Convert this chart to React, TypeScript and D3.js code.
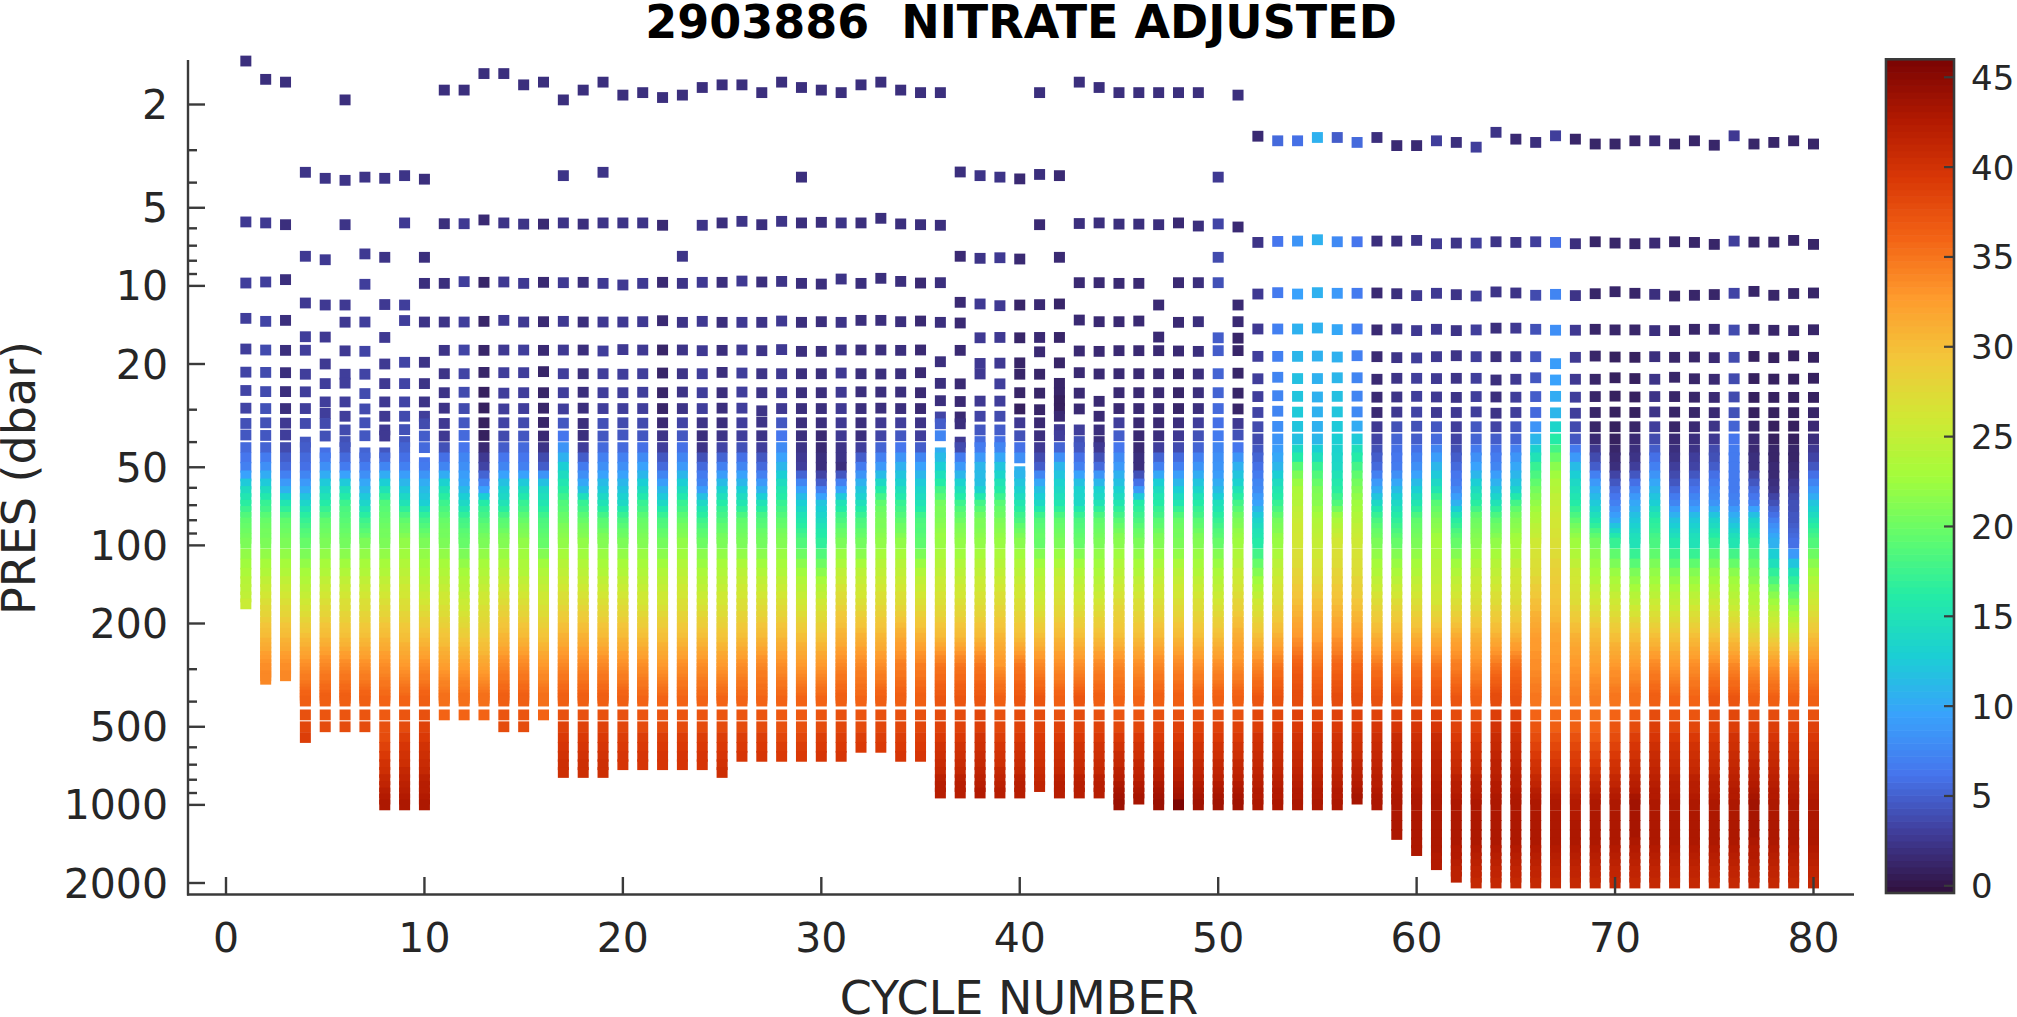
import React from "react";
import * as d3 from "d3";

const titleText = "2903886  NITRATE ADJUSTED";
const xLabel = "CYCLE NUMBER";
const yLabel = "PRES (dbar)";
const xTicks = [0, 10, 20, 30, 40, 50, 60, 70, 80];
const yMajorTicks = [2, 5, 10, 20, 50, 100, 200, 500, 1000, 2000];
const yMinorTicks = [3, 4, 6, 7, 8, 9, 30, 40, 60, 70, 80, 90, 300, 400, 600, 700, 800, 900];
const colorTicks = [0, 5, 10, 15, 20, 25, 30, 35, 40, 45];

const turboStops = ["#30103c", "#403c98", "#4675ed", "#39a2fc", "#1bcfd4", "#24eca6", "#61fc6c", "#a4fc3b", "#d1e834", "#f3c63a", "#fe9b2d", "#f36315", "#d93806", "#b11901", "#7a0403"];

// sampled pressures above the dense part of each profile, cycle 1..80
const shallowLevels: number[][] = [
  [1.36, 5.67, 9.75, 13.34, 17.51, 21.5, 25.3, 29.6, 33.9, 37.55],
  [1.6, 5.72, 9.66, 13.7, 17.67, 21.55, 25.55, 29.7, 33.7, 37.7],
  [1.64, 5.81, 9.46, 13.58, 17.72, 21.6, 25.55, 29.7, 33.8, 37.55],
  [3.65, 7.69, 11.64, 15.7, 17.7, 21.9, 25.6, 29.7, 33.9, 40],
  [3.85, 7.93, 11.85, 15.75, 20, 23.8, 28, 31, 33.9, 37.9, 44],
  [1.92, 3.92, 5.81, 11.85, 13.8, 17.8, 21.9, 23.7, 28, 31.8, 35.9, 39.8],
  [3.81, 7.53, 9.86, 13.78, 17.87, 21.9, 26, 29.8, 33.7, 37.8, 44],
  [3.85, 7.76, 11.8, 15.8, 20, 23.8, 28, 31.8, 35.9, 37.9, 44],
  [3.76, 5.72, 11.85, 13.6, 19.7, 23.8, 28, 31.8, 35.8, 39.8],
  [3.88, 7.76, 9.78, 13.78, 19.7, 23.8, 28, 31.8, 34, 37.9, 42, 48],
  [1.76, 5.76, 9.78, 13.78, 17.72, 21.8, 25.8, 29.6, 33.9, 37.9],
  [1.76, 5.76, 9.63, 13.78, 17.67, 21.8, 25.7, 29.7, 33.7, 37.7],
  [1.52, 5.57, 9.69, 13.7, 17.72, 21.55, 25.7, 29.55, 33.7, 37.7],
  [1.52, 5.72, 9.66, 13.58, 17.67, 21.6, 25.9, 29.8, 33.7, 37.9],
  [1.68, 5.78, 9.78, 13.78, 17.67, 21.6, 25.8, 29.7, 33.7, 37.9],
  [1.64, 5.78, 9.69, 13.74, 17.72, 21.4, 25.8, 29.6, 33.6, 37.9],
  [1.92, 3.76, 5.72, 9.72, 13.7, 17.67, 21.8, 25.8, 29.8, 33.8, 37.9],
  [1.76, 5.78, 9.69, 13.78, 17.67, 21.8, 25.7, 29.6, 33.9, 37.7],
  [1.64, 3.65, 5.72, 9.78, 13.78, 17.82, 21.8, 25.8, 29.7, 33.9, 37.9],
  [1.84, 5.72, 9.92, 13.78, 17.6, 21.9, 25.8, 29.7, 33.7, 37.55],
  [1.8, 5.72, 9.78, 13.74, 17.67, 21.8, 25.7, 29.7, 33.8, 37.8],
  [1.88, 5.84, 9.69, 13.62, 17.66, 21.67, 25.8, 29.7, 33.7, 37.8],
  [1.84, 7.69, 9.78, 13.82, 17.66, 21.8, 25.65, 29.7, 33.7, 37.8],
  [1.72, 5.84, 9.69, 13.7, 17.77, 21.8, 25.8, 29.7, 33.7, 37.8],
  [1.68, 5.72, 9.69, 13.82, 17.72, 21.55, 25.8, 29.6, 33.7, 37.8],
  [1.68, 5.64, 9.58, 13.82, 17.66, 21.67, 25.65, 29.6, 33.7, 37.8],
  [1.8, 5.81, 9.66, 13.82, 17.77, 21.8, 25.8, 30.3, 33.5, 37.8],
  [1.64, 5.64, 9.61, 13.66, 17.6, 21.8, 25.8, 29.7, 33.7, 37.8],
  [1.72, 3.81, 5.72, 9.78, 13.82, 17.88, 21.8, 25.8, 29.7, 33.7, 37.8],
  [1.76, 5.69, 9.84, 13.74, 17.88, 21.8, 25.8, 29.7, 33.7, 37.8],
  [1.8, 5.72, 9.41, 13.82, 17.66, 21.67, 25.7, 29.7, 33.7, 37.8],
  [1.68, 5.72, 9.78, 13.58, 17.66, 21.8, 25.6, 29.7, 33.7, 37.8],
  [1.64, 5.49, 9.35, 13.58, 17.66, 21.85, 25.65, 29.6, 33.7, 37.8],
  [1.76, 5.77, 9.61, 13.74, 17.72, 21.8, 25.65, 29.7, 33.7, 37.8],
  [1.8, 5.81, 9.75, 13.66, 17.66, 21.6, 25.8, 29.7, 33.7, 37.8],
  [1.8, 5.84, 9.72, 13.82, 19.6, 23.75, 27.7, 32, 34, 37.8, 44],
  [3.64, 7.69, 11.57, 13.9, 17.72, 23.85, 27.9, 32, 34, 40],
  [3.76, 7.83, 11.74, 15.85, 19.9, 21.85, 27.8, 31.8, 35.9, 39.8],
  [3.81, 7.79, 11.92, 15.8, 19.85, 23.85, 27.8, 31.8, 35.9, 39.8],
  [3.87, 7.88, 11.85, 15.85, 19.8, 21.9, 25.8, 29.8, 33.7, 37.8, 42, 46, 52],
  [1.8, 3.72, 5.81, 11.81, 15.8, 17.95, 21.9, 25.9, 30, 33.7, 37.8],
  [3.76, 7.76, 11.74, 15.8, 19.8, 23.75, 25.8, 27.7, 29.7, 31.8, 35.8, 37.8],
  [1.64, 5.75, 9.72, 13.54, 17.82, 21.6, 25.9, 29.8, 35.9, 39.8],
  [1.72, 5.72, 9.72, 13.74, 17.88, 21.85, 27.85, 31.8, 35.9, 39.8],
  [1.8, 5.78, 9.78, 13.74, 17.77, 21.8, 25.8, 29.7, 33.7, 37.8],
  [1.8, 5.78, 9.78, 13.66, 17.77, 21.8, 25.8, 29.7, 33.7, 37.8],
  [1.8, 5.81, 11.85, 15.75, 17.77, 21.8, 25.8, 29.7, 33.7, 37.8],
  [1.8, 5.72, 9.72, 13.82, 17.82, 21.8, 25.8, 29.7, 33.7, 37.8],
  [1.8, 5.88, 9.72, 13.74, 17.88, 21.85, 25.8, 29.7, 33.7, 37.8],
  [3.81, 5.77, 7.76, 9.72, 15.85, 17.77, 21.8, 25.8, 29.7, 33.7, 37.8],
  [1.84, 5.93, 11.85, 13.74, 15.9, 17.76, 21.7, 25.9, 29.8, 33.9, 37.55],
  [2.65, 6.8, 10.75, 14.66, 18.69, 22.8, 26.7, 30.75, 34.9, 38.9, 42.9],
  [2.76, 6.74, 10.62, 14.66, 18.69, 22.5, 26.5, 30.4, 34.8, 38.9, 42.9],
  [2.76, 6.72, 10.75, 14.66, 18.69, 22.76, 26.65, 30.65, 34.8, 38.9, 42.9],
  [2.68, 6.64, 10.62, 14.53, 18.64, 22.76, 26.8, 30.6, 34.8, 38.9, 42.9],
  [2.68, 6.76, 10.68, 14.74, 18.8, 22.6, 26.65, 30.6, 34.8, 38.9, 42.9],
  [2.8, 6.76, 10.68, 14.66, 18.58, 22.6, 26.6, 30.6, 34.7, 38.9, 42.9],
  [2.68, 6.72, 10.65, 14.78, 18.74, 22.9, 26.85, 30.75, 34.9, 38.9, 42.9],
  [2.88, 6.72, 10.72, 14.66, 18.9, 22.71, 26.8, 30.65, 34.9, 38.9, 42.9],
  [2.88, 6.68, 10.9, 14.87, 18.95, 22.71, 26.65, 30.65, 34.75, 38.9, 42.9],
  [2.76, 6.88, 10.68, 14.7, 18.74, 22.76, 26.8, 30.75, 34.9, 38.9, 42.9],
  [2.8, 6.84, 10.81, 14.87, 18.58, 22.71, 26.9, 30.75, 34.9, 38.9, 42.9],
  [2.92, 6.84, 10.94, 14.78, 18.74, 22.71, 26.7, 30.6, 34.9, 38.9, 42.9],
  [2.56, 6.76, 10.55, 14.55, 18.74, 23.05, 26.8, 30.95, 34.9, 38.9, 42.9],
  [2.72, 6.8, 10.65, 14.55, 18.74, 22.9, 26.85, 30.75, 34.9, 38.9, 42.9],
  [2.8, 6.76, 10.87, 14.7, 18.74, 22.6, 26.7, 30.75, 34.9, 38.9, 42.9],
  [2.64, 6.8, 10.78, 14.82, 19.94, 23.05, 26.65, 30.85, 34.9, 38.9, 42.9],
  [2.72, 6.88, 10.9, 14.82, 18.85, 22.9, 26.85, 30.95, 34.9, 38.9, 42.9],
  [2.84, 6.76, 10.72, 14.7, 18.64, 22.9, 26.7, 30.75, 34.9, 38.9, 42.9],
  [2.84, 6.84, 10.53, 14.78, 18.8, 22.6, 26.6, 30.65, 34.9, 38.9, 42.9],
  [2.76, 6.88, 10.68, 14.78, 18.85, 22.76, 26.8, 30.75, 34.9, 38.9, 42.9],
  [2.76, 6.84, 10.78, 14.87, 18.74, 22.9, 26.7, 30.6, 34.9, 38.9, 42.9],
  [2.84, 6.76, 10.94, 14.87, 18.85, 22.5, 26.7, 30.65, 34.9, 38.9, 42.9],
  [2.76, 6.8, 10.87, 14.7, 18.8, 22.8, 26.85, 30.75, 34.9, 38.9, 42.9],
  [2.87, 6.92, 10.8, 14.7, 18.9, 22.9, 26.9, 30.8, 34.7, 38.9, 42.9],
  [2.64, 6.72, 10.68, 14.8, 18.85, 22.8, 26.8, 30.8, 34.7, 38.9, 42.9],
  [2.84, 6.78, 10.5, 14.7, 18.7, 22.76, 26.9, 30.8, 34.7, 38.9, 42.9],
  [2.8, 6.78, 10.87, 14.83, 18.9, 22.87, 26.9, 30.8, 34.7, 38.9, 42.9],
  [2.76, 6.68, 10.7, 14.87, 18.6, 22.87, 26.9, 30.8, 34.7, 38.9, 42.9],
  [2.84, 6.92, 10.65, 14.76, 18.85, 22.7, 26.9, 30.8, 34.7, 38.9, 42.9],
];

// sampled pressures of the dense part, shared by all cycles
const profileLevels = [
  42, 46, 50, 54, 58, 62, 66, 70, 74, 78, 82, 86, 90, 94, 98,
  108, 118, 128, 138, 148, 158, 168, 178, 188, 198, 208, 218, 228, 238, 248, 258, 268, 278, 288, 298,
  308, 318, 328, 338, 348, 358, 368, 378, 388, 398,
  450, 500, 550, 600, 650, 700, 750, 800, 850, 900, 950, 1000,
  1100, 1200, 1300, 1400, 1500, 1600, 1700, 1800, 1900, 2000,
];

// first dense level used by each cycle
const columnTops = [
  42, 42, 42, 42, 46, 42, 46, 46, 42, 50, 42, 42, 42, 42, 42, 42, 42, 42, 42, 42,
  42, 42, 42, 42, 42, 42, 42, 42, 42, 42, 42, 42, 42, 42, 42, 46, 42, 42, 42, 54,
  42, 42, 42, 42, 42, 42, 42, 42, 42, 42, 42, 46, 46, 46, 46, 46, 46, 46, 46, 46,
  46, 46, 46, 46, 46, 46, 46, 46, 46, 46, 46, 46, 46, 46, 46, 46, 46, 46, 46, 46,
];

// deepest pressure reached by each cycle
const maxPressures = [
  168, 328, 318, 550, 500, 500, 500, 1000, 1000, 1000, 450, 450, 450, 500, 500, 450, 750, 750, 750, 700,
  700, 700, 700, 700, 750, 650, 650, 650, 650, 650, 650, 600, 600, 650, 650, 900, 900, 900, 900, 900,
  850, 900, 900, 900, 1000, 950, 1000, 1000, 1000, 1000, 1000, 1000, 1000, 1000, 1000, 1000, 950, 1000, 1300, 1500,
  1700, 1900, 2000, 2000, 2000, 2000, 2000, 2000, 2000, 2000, 2000, 2000, 2000, 2000, 2000, 2000, 2000, 2000, 2000, 2000,
];

const readingPressures = [2, 30, 40, 50, 60, 70, 80, 100, 130, 170, 230, 300, 400, 560, 1000, 1400, 2000];

// nitrate readings per cycle, one column per entry of readingPressures
const nitrateReadings: number[][] = [
  [2, 3.5, 5, 7, 13.5, 16.5, 19, 21, 23.5, 25.5],
  [2, 4, 4.5, 8, 13.5, 17, 19.5, 21, 24, 27, 30.5, 33.5, 35],
  [2, 2, 3.5, 5.5, 9.5, 15.5, 19, 21, 24, 27, 30.5, 33.5, 35],
  [2, 3.2, 4.5, 6, 9.5, 13.5, 17, 20, 23, 26, 30, 33.5, 36.5, 39],
  [2, 3, 4.5, 8, 13.5, 16, 19, 21, 24, 27, 30.5, 34, 36.5, 38.5],
  [2, 3, 4, 6.5, 14, 17.5, 19, 20.5, 24, 27, 30, 34, 36.5, 38.5],
  [2, 3.7, 4.5, 6.5, 10.5, 13.5, 17, 21, 24, 27, 30, 33.5, 36.5, 38.5],
  [2, 2.8, 2.5, 7.5, 14, 18.5, 19.5, 21, 24, 27, 30.5, 33.5, 36, 38, 43],
  [2, 3.5, 4.5, 7, 12, 15, 19, 22, 24.5, 27, 30, 33, 36, 39, 43],
  [2, 2.2, 5.5, 6.5, 11, 13, 17.5, 21, 23.5, 26.5, 30, 33.5, 36.5, 39.5, 43],
  [2, 2.2, 3, 7.5, 14.5, 17.5, 19.5, 21, 24, 26.5, 29.5, 32.5, 35.5, 37],
  [2, 3.7, 6, 8, 10.5, 14, 17.5, 20, 23, 25.5, 29, 32.5, 35.5, 37],
  [1.8, 1, 1, 3.5, 8, 16, 18.5, 21, 24, 26.5, 29, 32, 35.5, 37],
  [2, 3, 4, 7.5, 12.5, 15, 18.5, 21.5, 24.5, 27.5, 30.5, 34, 36.5, 38.5],
  [2, 3.2, 5, 7, 13.5, 17, 19.5, 22, 24, 27, 30.5, 34, 36.5, 38.5],
  [2, 1.3, 1.5, 5, 13.5, 15.5, 18, 20, 24, 26.5, 29.5, 33, 35.5, 37],
  [2, 3, 7, 13, 16, 18.5, 20, 22, 25, 27.5, 31, 34, 36.5, 39.5, 41.5],
  [2, 1.8, 2, 6.5, 10.5, 17, 19.5, 22, 24.5, 27.5, 31, 34, 36.5, 39.5, 41.5],
  [2, 3.2, 5, 8, 12, 15, 18.5, 21.5, 24, 27, 30.5, 34, 36.5, 39.5, 41.5],
  [2, 3, 5, 8, 11.5, 14, 18, 21, 24, 27, 30.5, 33.5, 36.5, 39, 41],
  [2, 3, 5, 9.5, 13.5, 17, 19.5, 21.5, 24, 26.5, 30, 33.5, 36, 39, 41],
  [2, 1.2, 2.5, 5.5, 10, 14, 18, 20.5, 24, 26.5, 30, 33, 36, 39, 41],
  [2, 2.5, 5, 9, 13.5, 17, 19.5, 22, 24.5, 27, 30, 33.5, 36, 39, 41],
  [2, 3, 1.5, 5.5, 8, 14, 17, 20.5, 23.5, 26.5, 30, 33.5, 36, 39, 41],
  [2, 1.8, 2.5, 7, 12.5, 16, 18.5, 21, 24, 26.5, 29.5, 33, 36, 39, 41.5],
  [2, 3, 3, 7.5, 12, 15.5, 19, 21, 24.5, 27, 30, 33.5, 36, 39, 41],
  [2, 2.2, 2.5, 5.5, 9.5, 15, 18.5, 20.5, 24, 27, 30.5, 34, 36, 39, 41],
  [2, 2.8, 7, 11, 15, 17, 19, 21.5, 24, 27, 30.5, 33.5, 36, 38.5, 41],
  [2, 2, 2, 3, 8.5, 13, 15.5, 19, 23, 26, 30, 33, 36, 38.5, 41],
  [2, 2, 1.5, 2, 5.5, 12, 14, 17, 22, 26, 29.5, 33, 36, 39, 41],
  [2, 2.6, 2.5, 2, 8, 15, 18, 21, 25, 28, 31, 34, 36.5, 39, 41],
  [2, 1.8, 2, 6.5, 11.5, 14.5, 18, 20.5, 24.5, 27, 31, 34, 36, 39, 40.5],
  [2, 1.8, 4, 9, 15, 19.5, 20.5, 22, 25, 27.5, 30.5, 33.5, 36.5, 39, 40.5],
  [2, 1.8, 5, 10.5, 14, 17, 19, 22, 25, 27.5, 31.5, 34.5, 36.5, 39, 41],
  [2, 1.5, 3.5, 9.5, 13, 15, 18, 19.5, 24, 27, 31, 34.5, 36.5, 39, 41],
  [2, 2, 8.5, 13, 17, 20.5, 21, 22.5, 25, 27, 30.5, 35, 37, 39.5, 43],
  [2, 1.5, 2.5, 9, 14, 17.5, 20, 22, 24.5, 27, 30.5, 35, 37, 39.5, 43],
  [2, 2.8, 5.5, 11, 12, 18, 20.5, 22, 25, 27, 30.5, 35, 37, 40, 43],
  [2, 3, 6, 12, 15.5, 19, 20.5, 22.5, 25, 27.5, 30.5, 33, 36.5, 39, 43],
  [2, 1, 5, 10, 12.5, 15.5, 18, 22, 24.5, 27, 30, 35, 37, 39.5, 43],
  [2, 1.3, 2, 5, 11, 14, 18.5, 20, 24, 26, 30, 34, 37, 39.5, 42],
  [2, 1, 3.5, 11, 13.5, 15.5, 19, 21, 25, 27, 30.5, 33.5, 36.5, 39.5, 43],
  [2, 1.5, 4, 7, 13, 14, 18, 20, 24, 26.5, 30, 33.5, 37, 39.5, 43],
  [2, 1.5, 2, 5.5, 12.5, 15, 19, 21, 23.5, 26.5, 30, 34, 36.5, 39.5, 43],
  [2, 1.5, 5.5, 9, 12.5, 15.5, 18.5, 22, 24.5, 27.5, 30, 34, 36, 39.5, 44],
  [2, 1.5, 1.5, 2, 7, 16, 18, 21, 24, 27, 30, 33.5, 36, 39.5, 43.5],
  [2, 1.5, 2, 7, 14, 16, 18.5, 21.5, 24.5, 27, 30.5, 34, 36.5, 39.5, 44],
  [2, 1.3, 3, 7, 12, 15.5, 19.5, 21, 24.5, 27, 30.5, 34, 36.5, 39.5, 44],
  [2, 1.8, 4.5, 8.5, 13, 16, 18.5, 21.5, 24, 27, 30, 33.5, 36.5, 39.5, 43.5],
  [2, 5.5, 7, 8.5, 10.5, 14.5, 17, 20, 23.5, 26.5, 30, 33.5, 36.5, 39.5, 43.5],
  [2, 1.2, 5, 10.5, 14, 18, 20.5, 23, 25.5, 28, 31.5, 33.5, 36.5, 39.5, 43.5],
  [1.5, 3.2, 4, 6, 7.5, 9.5, 13, 16.5, 21.5, 26, 30, 34, 37, 40, 43],
  [5.5, 7.5, 8.5, 11, 15, 17, 20, 22.5, 25.5, 27.5, 31, 35, 37.5, 40, 43],
  [5, 12.5, 11.5, 19, 23, 24, 25.5, 26.5, 28, 30, 33, 36.5, 38, 40, 43],
  [10.5, 10.5, 11, 17, 20.5, 21.5, 23.5, 25.5, 27, 30, 32.5, 35.5, 37.5, 40, 43],
  [4, 12, 13, 14, 16, 18.5, 23, 26.5, 28, 30, 33, 36, 38, 40, 43],
  [5.5, 7.5, 13, 18, 21, 22.5, 24, 26, 27.5, 29.5, 32.5, 36, 38, 40, 43.5],
  [2, 1.5, 3.5, 5.5, 9.5, 14, 18, 21, 24, 27.5, 31, 35, 37.5, 40.5, 43],
  [1.5, 2.5, 5.5, 6.5, 10.5, 14, 16.5, 20, 23.5, 27.5, 31, 34.5, 37.5, 41, 43, 43],
  [1.5, 3.2, 5, 8, 12, 15.5, 19, 21, 24, 27, 31, 35, 37.5, 40.5, 43, 43, 42],
  [3, 2.5, 6, 11, 14.5, 19, 21, 23, 24.5, 26.5, 31, 35, 37.5, 41, 43, 43, 42],
  [2, 2.5, 3.5, 5.5, 7, 10.5, 16, 20, 24, 27, 31.5, 34.5, 37, 39.5, 43, 43, 41.5],
  [3, 3, 5.5, 9.5, 13.5, 16.5, 20, 21.5, 25, 27, 31, 33.5, 36.5, 39.5, 43, 43, 41],
  [2.5, 2, 5, 7.5, 11.5, 15, 19, 22, 25, 27.5, 31, 35, 38, 41, 43, 43, 41],
  [1.5, 3, 5.5, 10, 12.5, 18, 21, 23, 26, 27.5, 31, 35.5, 37.5, 40.5, 43, 43, 41],
  [1.5, 5, 11.5, 17, 20, 22, 23.5, 26, 27.5, 30, 32.5, 33.5, 35, 38, 43, 43, 41],
  [2, 10.5, 16.5, 21.5, 24, 25, 26, 27, 28.5, 29.5, 32, 33, 34.5, 37.5, 43, 43, 41],
  [1.2, 3, 4.5, 11.5, 14.5, 16, 19, 23, 26, 27.5, 31, 33, 34.5, 37.5, 42.5, 43, 41],
  [1.2, 1.2, 1.5, 5, 9.5, 12.5, 15, 21, 23, 26.5, 30.5, 32.5, 34.5, 37, 43, 43, 41],
  [1.2, 1, 1, 2, 5, 7, 9.5, 18, 22.5, 26, 30, 33, 35, 38, 43, 43, 41],
  [1.2, 1, 1.5, 3, 6.5, 10, 12, 15.5, 21, 25, 30, 33, 35.5, 39, 43.5, 43, 41],
  [1.3, 2.3, 4, 7, 10.5, 13, 16, 18.5, 22, 25.5, 30, 34, 36.5, 40, 43, 43, 41],
  [1.2, 1.2, 1.5, 3, 5, 7.5, 11.5, 16, 21, 25, 29.5, 33, 36, 39.5, 43, 43, 41],
  [1.2, 1.2, 2, 3.5, 6, 8, 12, 15.5, 21.5, 25.5, 30, 33.5, 36, 39.5, 43, 43, 41],
  [1.2, 1.5, 3, 5, 7, 8.5, 13, 17.5, 22, 25.5, 29.5, 34, 37, 39.5, 43, 43, 41],
  [2.5, 4, 6.5, 6.5, 6.5, 7.5, 11, 16, 22, 25, 29.5, 34, 37, 40, 43, 43, 41],
  [1.2, 1, 1.5, 2, 5, 7, 13, 17.5, 21, 24, 28, 33, 36.5, 40, 43.5, 43, 41.5],
  [1.2, 1, 1, 1.5, 2, 4, 6.5, 11, 17, 23, 28, 33, 36.5, 40, 43, 43, 41],
  [1.2, 1, 1, 1.5, 3, 4, 4.5, 6, 15.5, 21, 27, 33, 36.5, 39.5, 43, 43, 41],
  [1.2, 1, 2, 4.5, 8, 12, 15, 19, 23, 26, 30, 33.5, 36.5, 39.5, 43, 43, 41],
];

// the one reading well outside its neighbours: cycle, pressure, nitrate
const outlierReadings = [{ cycle: 48, pressure: 1000, nitrate: 46 }];

const AXIS = "#3a3a3a";
const TEXT = "#262626";
const FONT = "'DejaVu Sans', sans-serif";

const x = d3.scaleLinear().domain([0, 80]).range([226, 1813.5]);
const y = d3.scaleLog().domain([2, 2000]).range([104.5, 883]);
const colorY = d3.scaleLinear().domain([-0.4, 46]).range([893, 59.3]);
const turbo = d3.piecewise(d3.interpolateRgb, turboStops);
const STEPS = 128;
const colorOf = (v: number) => {
  const t = (v + 0.4) / 46.4;
  const i = Math.min(STEPS - 1, Math.max(0, Math.floor(t * STEPS)));
  return turbo((i + 0.5) / STEPS);
};
const MARK_W = 11;
const MARK_H = 10.8;

type Mark = { cycle: number; pressure: number; nitrate: number };
const marks: Mark[] = shallowLevels.flatMap((shallow, i) => {
  const cycle = i + 1;
  const row = nitrateReadings[i];
  const padded = readingPressures.map((_, k) => row[Math.min(k, row.length - 1)]);
  const reading = d3.scaleLog().domain(readingPressures).range(padded).clamp(true);
  const dense = profileLevels.filter((p) => p >= columnTops[i] && p <= maxPressures[i]);
  return [...shallow, ...dense].map((pressure) => {
    const outlier = outlierReadings.find((o) => o.cycle === cycle && o.pressure === pressure);
    return { cycle, pressure, nitrate: outlier ? outlier.nitrate : reading(pressure) };
  });
});
const colorSteps = d3.range(STEPS).map((i) => -0.4 + (i * 46.4) / STEPS);

export default function App() {
  return (
    <svg width={2017} height={1017} viewBox="0 0 2017 1017" style={{ position: "absolute", left: 0, top: 0, background: "#fff" }} fontFamily={FONT}>
      <text x={1021} y={38} textAnchor="middle" fontSize={46} fontWeight="bold" fill="#000" style={{ whiteSpace: "pre" }}>{titleText}</text>

      <g>
        {marks.map((m, i) => (
          <rect key={i} x={x(m.cycle) - MARK_W / 2} y={y(m.pressure) - MARK_H / 2} width={MARK_W} height={MARK_H} fill={colorOf(m.nitrate)} />
        ))}
      </g>

      <g stroke={AXIS} strokeWidth={2.4}>
        <line x1={188} x2={188} y1={60} y2={895.5} />
        <line x1={187} x2={1854} y1={894.5} y2={894.5} />
        {xTicks.map((t) => <line key={t} x1={x(t)} x2={x(t)} y1={877} y2={894} />)}
        {yMajorTicks.map((t) => <line key={t} x1={188} x2={205} y1={y(t)} y2={y(t)} />)}
        {yMinorTicks.map((t) => <line key={t} x1={188} x2={197} y1={y(t)} y2={y(t)} />)}
      </g>

      <g fontSize={41} fill={TEXT}>
        {xTicks.map((t) => <text key={t} x={x(t)} y={952} textAnchor="middle">{t}</text>)}
        {yMajorTicks.map((t) => <text key={t} x={168} y={y(t) + 14.5} textAnchor="end">{t}</text>)}
      </g>
      <text x={1019} y={1014} textAnchor="middle" fontSize={46} fill={TEXT}>{xLabel}</text>
      <text transform="translate(35,478) rotate(-90)" textAnchor="middle" fontSize={46} fill={TEXT}>{yLabel}</text>

      <g>
        {colorSteps.map((v) => (
          <rect key={v} x={1886} width={68} y={colorY(v + 46.4 / STEPS)} height={colorY(v) - colorY(v + 46.4 / STEPS) + 0.6} fill={colorOf(v + 0.01)} />
        ))}
        <rect x={1886} y={59.3} width={68} height={833.7} fill="none" stroke={AXIS} strokeWidth={2.6} />
        {colorTicks.map((t) => <line key={t} x1={1944} x2={1954} y1={colorY(t)} y2={colorY(t)} stroke={AXIS} strokeWidth={2.2} />)}
      </g>
      <g fontSize={34} fill={TEXT}>
        {colorTicks.map((t) => <text key={t} x={1971} y={colorY(t) + 12.5}>{t}</text>)}
      </g>
    </svg>
  );
}
